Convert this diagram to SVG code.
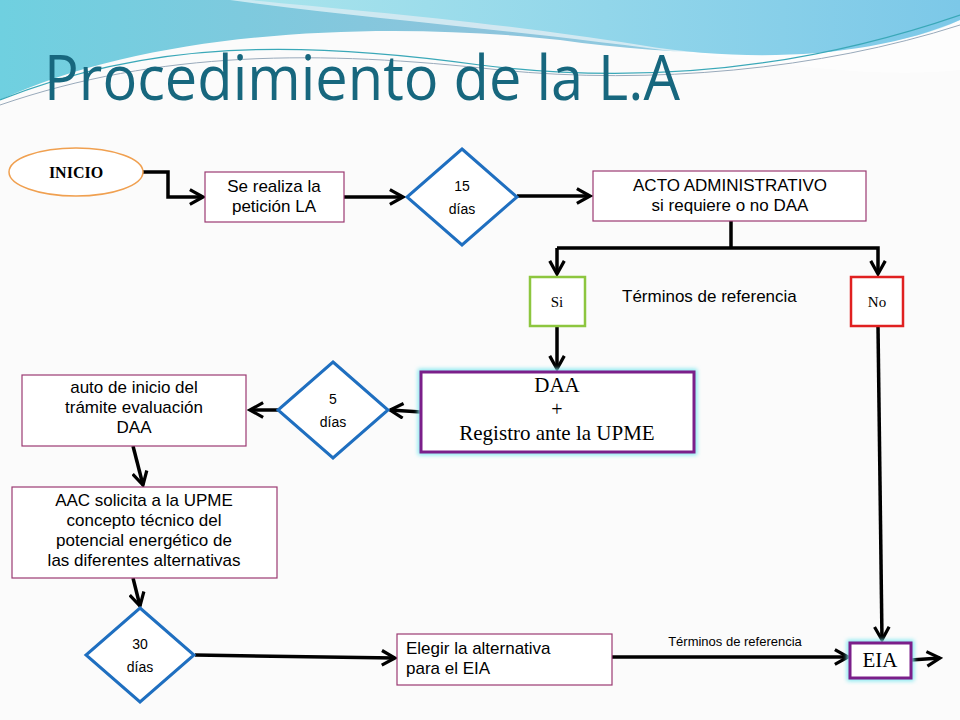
<svg xmlns="http://www.w3.org/2000/svg" width="960" height="720" viewBox="0 0 960 720">
<defs>
<linearGradient id="bg1" x1="0" y1="0" x2="1" y2="0"><stop offset="0" stop-color="#6fd0e0"/><stop offset="0.5" stop-color="#8cc4dc"/><stop offset="1" stop-color="#9ad6e8"/></linearGradient>
<linearGradient id="bg2" x1="0" y1="0" x2="1" y2="0"><stop offset="0" stop-color="#a8e4ec"/><stop offset="1" stop-color="#7cc8e8"/></linearGradient>
<marker id="ar" viewBox="0 0 12 12" refX="10" refY="6" markerWidth="5" markerHeight="5" orient="auto" markerUnits="strokeWidth"><path d="M1,1 L10,6 L1,11" fill="none" stroke="#000" stroke-width="2.2"/></marker>
<filter id="glow" x="-10%" y="-20%" width="120%" height="140%"><feGaussianBlur stdDeviation="2"/></filter>
</defs>
<style>
.c{fill:none;stroke:#000;stroke-width:3.5;marker-end:url(#ar)}
.box{fill:#fff;stroke:#9b3a72;stroke-width:1.2}
.dia{fill:#fff;stroke:#1f6fc0;stroke-width:3}
.t{font-family:"Liberation Sans",Arial,sans-serif;font-size:17px;fill:#000;text-anchor:middle}
.l{font-family:"Liberation Sans",Arial,sans-serif;font-size:17px;fill:#000}
.s{font-family:"Liberation Serif","Times New Roman",serif;fill:#000;text-anchor:middle}
.p{fill:#fff;stroke:#7b1f8a;stroke-width:3}
</style>
<rect width="960" height="720" fill="#fbfbfb"/>
<g id="background">
<path d="M0,0 H960 V20 C880,60 700,60 560,40 C380,20 150,30 0,100 Z" fill="url(#bg1)"/>
<path d="M230,0 H960 V70 C870,80 760,60 700,55 C520,30 380,20 230,0 Z" fill="#ffffff" opacity="0.6"/>
<path d="M250,0 H960 V20 C880,55 760,65 640,45 C480,20 350,10 250,0 Z" fill="url(#bg2)"/>
<path d="M0,100 C150,40 300,40 480,65 C640,85 800,70 960,15" fill="none" stroke="#3aa8b8" stroke-width="1.2"/>
<path d="M0,105 C160,50 320,50 500,70 C650,85 820,70 960,25" fill="none" stroke="#9ab" stroke-width="1"/>
</g>
<text x="44" y="100" font-family="'Open Sans',Lato,sans-serif" font-size="62" fill="#17677e" textLength="636" lengthAdjust="spacingAndGlyphs">Procedimiento de la L.A</text>
<g id="connectors">
<path class="c" d="M143,172 H168 V197 H203"/>
<path class="c" d="M344,197 H403"/>
<path class="c" d="M517,196 H590"/>
<path d="M731,221 V248" fill="none" stroke="#000" stroke-width="3.5"/>
<path class="c" d="M557,248 H878 V274"/>
<path class="c" d="M557,248 V274"/>
<path class="c" d="M557,326 V369"/>
<path class="c" d="M878,326 L882,640"/>
<path class="c" d="M421,412 L390,410"/>
<path class="c" d="M279,410 L250,410"/>
<path class="c" d="M133,446 L143,485"/>
<path class="c" d="M133,578 L140,606"/>
<path class="c" d="M195,655 L395,658"/>
<path class="c" d="M612,657 H848"/>
<path class="c" d="M911,660 L940,658"/>
<text x="735" y="646" font-family="'Liberation Sans',Arial,sans-serif" font-size="13" text-anchor="middle">Términos de referencia</text>
<text x="622" y="302" font-family="'Liberation Sans',Arial,sans-serif" font-size="17">Términos de referencia</text>
</g>
<g id="inicio"><ellipse cx="76" cy="172" rx="67" ry="24" fill="#fff" stroke="#f0a050" stroke-width="1.5"/><text class="s" x="76" y="178" font-size="16" font-weight="bold">INICIO</text></g>
<g id="peticion"><rect class="box" x="205" y="172" width="139" height="50"/><text class="t" x="274" y="192">Se realiza la</text><text class="t" x="274" y="212">petición LA</text></g>
<g id="d15"><polygon class="dia" points="462,149 517,197 462,245 407,197"/><text class="t" x="462" y="191" font-size="14" style="font-size:14px">15</text><text class="t" x="462" y="214" style="font-size:14px">días</text></g>
<g id="acto"><rect class="box" x="593" y="171" width="273" height="50"/><text class="t" x="730" y="191">ACTO ADMINISTRATIVO</text><text class="t" x="730" y="211">si requiere o no DAA</text></g>
<g id="si"><rect x="530" y="277" width="55" height="49" fill="#fff" stroke="#8dc63f" stroke-width="2.5"/><text class="s" x="557" y="307" font-size="15">Si</text></g>
<g id="no"><rect x="851" y="277" width="52" height="49" fill="#fff" stroke="#e02020" stroke-width="2.5"/><text class="s" x="877" y="307" font-size="15">No</text></g>
<g id="daa"><rect x="421" y="372" width="273" height="80" fill="none" stroke="#7fe8f0" stroke-width="6" filter="url(#glow)"/><rect class="p" x="421" y="372" width="273" height="80"/><text class="s" x="557" y="392" font-size="21">DAA</text><text class="s" x="557" y="416" font-size="20">+</text><text class="s" x="557" y="440" font-size="21">Registro ante la UPME</text></g>
<g id="d5"><polygon class="dia" points="333,362 388,410 333,458 278,410"/><text class="t" x="333" y="404" style="font-size:14px">5</text><text class="t" x="333" y="427" style="font-size:14px">días</text></g>
<g id="auto"><rect class="box" x="22" y="375" width="224" height="71"/><text class="t" x="134" y="393">auto de inicio del</text><text class="t" x="134" y="413">trámite evaluación</text><text class="t" x="134" y="433">DAA</text></g>
<g id="aac"><rect class="box" x="12" y="487" width="265" height="91"/><text class="t" x="144" y="506">AAC solicita a la UPME</text><text class="t" x="144" y="526">concepto técnico del</text><text class="t" x="144" y="546">potencial energético de</text><text class="t" x="144" y="566">las diferentes alternativas</text></g>
<g id="d30"><polygon class="dia" points="140,608 194,655 140,702 86,655"/><text class="t" x="140" y="649" style="font-size:14px">30</text><text class="t" x="140" y="672" style="font-size:14px">días</text></g>
<g id="elegir"><rect class="box" x="397" y="634" width="215" height="51"/><text class="l" x="406" y="654">Elegir la alternativa</text><text class="l" x="406" y="674">para el EIA</text></g>
<g id="eia"><rect x="850" y="643" width="61" height="35" fill="none" stroke="#7fe8f0" stroke-width="6" filter="url(#glow)"/><rect class="p" x="850" y="643" width="61" height="35"/><text class="s" x="880" y="667" font-size="21">EIA</text></g>
</svg>
